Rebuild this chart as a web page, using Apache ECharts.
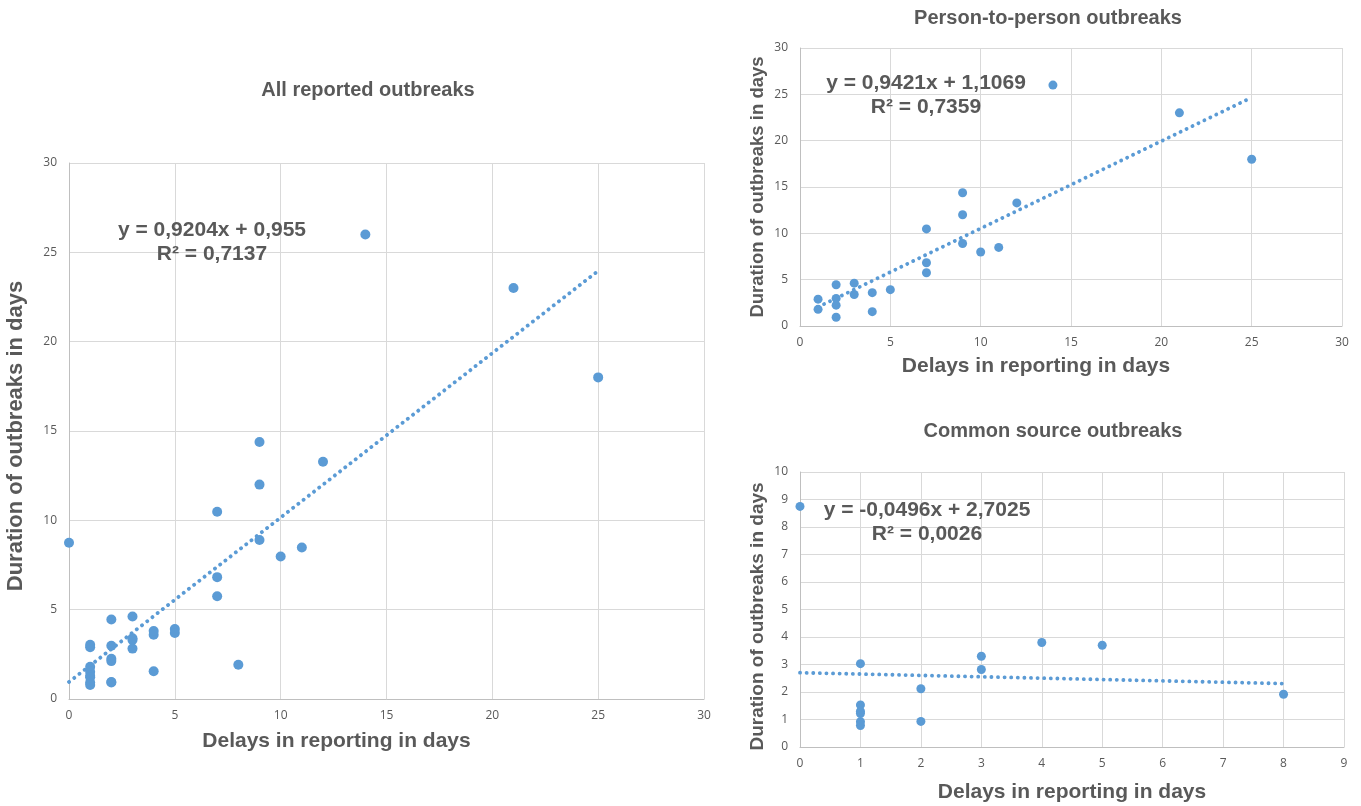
<!DOCTYPE html>
<html>
<head>
<meta charset="utf-8">
<title>Outbreak duration vs reporting delay</title>
<script src="https://cdn.jsdelivr.net/npm/echarts@6/dist/echarts.min.js"></script>
<style>
  html, body { margin: 0; padding: 0; background: #fff; }
  #main { width: 1361px; height: 806px; }
</style>
</head>
<body>
<div id="main"></div>
<script>
// person-to-person outbreaks: [delay, duration]
var p2pPoints = [
    [1, 2.9], [1, 1.8], [2, 4.45], [2, 2.98], [2, 2.25], [2, 0.95],
    [3, 4.62], [3, 3.4], [4, 3.6], [4, 1.55], [5, 3.92],
    [7, 10.48], [7, 6.82], [7, 5.75], [9, 14.38], [9, 12], [9, 8.9],
    [10, 7.98], [11, 8.48], [12, 13.28], [14, 26], [21, 23], [25, 18]
];
// common source outbreaks: [delay, duration]
var commonPoints = [
    [0, 8.75], [1, 3.03], [1, 1.53], [1, 1.3], [1, 1.22], [1, 0.92], [1, 0.78],
    [2, 2.12], [2, 0.93], [3, 3.3], [3, 2.82], [4, 3.8], [5, 3.7], [8, 1.92]
];
var allPoints = p2pPoints.concat(commonPoints);

// linear trend lines as printed on the chart: [slope, intercept], x range
var allTrend = [0.9204, 0.955];
var p2pTrend = [0.9421, 1.1069];
var commonTrend = [-0.0496, 2.7025];
var allTrendRange = [0, 25];
var p2pTrendRange = [1, 25];
var commonTrendRange = [0, 8];

var titles = ['All reported outbreaks', 'Person-to-person outbreaks', 'Common source outbreaks'];
var equations = [
    ['y = 0,9204x + 0,955', 'R\u00b2 = 0,7137'],
    ['y = 0,9421x + 1,1069', 'R\u00b2 = 0,7359'],
    ['y = -0,0496x + 2,7025', 'R\u00b2 = 0,0026']
];
var xName = 'Delays in reporting in days';
var yName = 'Duration of outbreaks in days';

var blue = '#5B9BD5';
var textGrey = '#595959';
var gridGrey = '#D9D9D9';
var boldFont = 'bold 21px "Liberation Sans", Arial, sans-serif';
var titleFont = 'bold 20px "Liberation Sans", Arial, sans-serif';

function trendLine(coef, range) {
    return range.map(function(x) { return [x, coef[0] * x + coef[1]]; });
}

// pad shifts the axis name along the axis (Excel had them off-centre)
function xAxis(idx, max, interval, gap, pad) {
    return {
        gridIndex: idx, type: 'value', min: 0, max: max, interval: interval,
        name: xName, nameLocation: 'middle', nameGap: gap,
        nameTextStyle: {
            color: textGrey, fontSize: 21, fontWeight: 'bold', fontFamily: 'Liberation Sans',
            padding: pad
        },
        axisLine: { show: true, lineStyle: { color: '#BFBFBF', width: 1 } },
        axisTick: { show: false },
        axisLabel: { color: textGrey, fontSize: 12, fontFamily: 'Open Sans', margin: 11 },
        splitLine: { show: true, lineStyle: { color: gridGrey, width: 1 } }
    };
}

function yAxis(idx, max, interval, gap, size, pad) {
    return {
        gridIndex: idx, type: 'value', min: 0, max: max, interval: interval,
        name: yName, nameLocation: 'middle', nameGap: gap,
        nameTextStyle: {
            color: textGrey, fontSize: size, fontWeight: 'bold', fontFamily: 'Liberation Sans',
            padding: pad
        },
        axisLine: { show: true, lineStyle: { color: '#BFBFBF', width: 1 } },
        axisTick: { show: false },
        axisLabel: { color: textGrey, fontSize: 12, fontFamily: 'Open Sans', margin: 12 },
        splitLine: { show: true, lineStyle: { color: gridGrey, width: 1 } }
    };
}

function scatter(idx, data, size) {
    return {
        type: 'scatter', xAxisIndex: idx, yAxisIndex: idx, data: data,
        symbolSize: size, itemStyle: { color: blue, opacity: 1 }, z: 3
    };
}

function trend(idx, coef, range) {
    return {
        type: 'line', xAxisIndex: idx, yAxisIndex: idx, data: trendLine(coef, range),
        showSymbol: false, silent: true, z: 2,
        lineStyle: { color: blue, width: 3.8, type: [0.1, 6.5], cap: 'round' }
    };
}

function label(x, y, text, font) {
    return {
        type: 'text', x: x, y: y, z: 10,
        style: { text: text, font: font, fill: textGrey, align: 'center', verticalAlign: 'middle' }
    };
}

var myChart = echarts.init(document.getElementById('main'));
var option = {
    backgroundColor: '#fff',
    animation: false,
    grid: [
        { left: 69, top: 163, width: 635, height: 536 },
        { left: 800, top: 48, width: 542, height: 278 },
        { left: 800, top: 472, width: 544, height: 275 }
    ],
    xAxis: [
        xAxis(0, 30, 5, 32, [0, 100, 0, 0]),
        xAxis(1, 30, 5, 30, [0, 70, 0, 0]),
        xAxis(2, 9, 1, 35, 0)
    ],
    yAxis: [
        yAxis(0, 30, 5, 42, 22, [0, 10, 0, 0]),
        yAxis(1, 30, 5, 33, 18.5, 0),
        yAxis(2, 10, 1, 33, 19, [0, 14, 0, 0])
    ],
    series: [
        scatter(0, allPoints, 10), trend(0, allTrend, allTrendRange),
        scatter(1, p2pPoints, 9), trend(1, p2pTrend, p2pTrendRange),
        scatter(2, commonPoints, 9), trend(2, commonTrend, commonTrendRange)
    ],
    graphic: [
        label(368, 90, titles[0], titleFont),
        label(1048, 18, titles[1], titleFont),
        label(1053, 431, titles[2], titleFont),
        label(212, 230, equations[0][0], boldFont),
        label(212, 254, equations[0][1], boldFont),
        label(926, 83, equations[1][0], boldFont),
        label(926, 107, equations[1][1], boldFont),
        label(927, 510, equations[2][0], boldFont),
        label(927, 534, equations[2][1], boldFont)
    ]
};
myChart.setOption(option);
</script>
</body>
</html>
